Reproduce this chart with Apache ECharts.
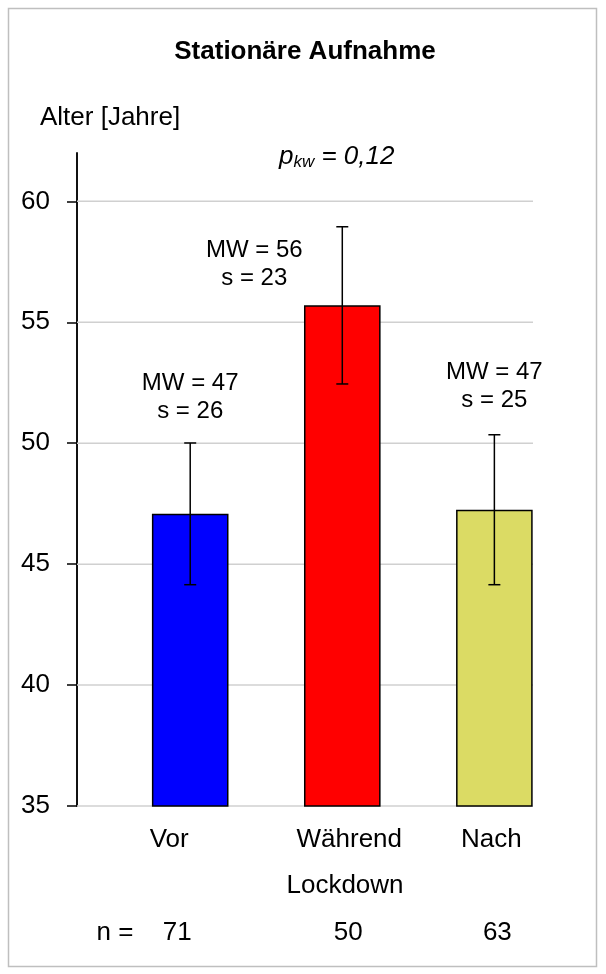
<!DOCTYPE html>
<html>
<head>
<meta charset="utf-8">
<script src="https://cdn.jsdelivr.net/npm/echarts@6/dist/echarts.min.js"></script>
<style>
  html, body { margin: 0; padding: 0; background: #ffffff; }
  #chart { width: 606px; height: 974px; }
</style>
</head>
<body>
<div id="chart"></div>
<script>
// Age at inpatient admission, before / during / after lockdown
const categories = ['Vor', 'Während', 'Nach'];
const positions = [1, 2, 3];
const means = [47.08, 55.7, 47.25];
const errors = [2.93, 3.25, 3.1];
const mwLabels = [47, 56, 47];
const sdLabels = [26, 23, 25];
const sampleSizes = [71, 50, 63];
const yTicks = [35, 40, 45, 50, 55, 60];
const barColors = ['#0000FF', '#FF0000', '#DBDB64'];

// layout nudges (pixels) for the text placed around each bar
const statOffsetX = [0, -88, 0];
const statOffsetY = [-46, 38, -48];
const catNudge = [-21, 7, -3];
const nNudge = [-13, 6, 3];

const FONT = '"Liberation Sans", Arial, Helvetica, sans-serif';
const chart = echarts.init(document.getElementById('chart'), null, { renderer: 'canvas' });

const barData = positions.map((x, i) => ({
  value: [x, means[i]],
  itemStyle: { color: barColors[i], borderColor: '#000', borderWidth: 1.5 }
}));
const errData = positions.map((x, i) => [x, means[i] - errors[i], means[i] + errors[i]]);
const statData = positions.map((x, i) => [x, means[i] + errors[i], i]);
const footData = positions.map((x, i) => [x, yTicks[0], i]);

function textEl(x, y, text, size, extra) {
  return {
    type: 'text', x: x, y: y,
    style: Object.assign({
      text: text, fill: '#000', font: size + 'px ' + FONT,
      textAlign: 'center', align: 'center',
      textVerticalAlign: 'middle', verticalAlign: 'middle'
    }, extra || {})
  };
}

chart.setOption({
  animation: false,
  backgroundColor: '#ffffff',
  grid: { left: 77, top: 153, right: 73, bottom: 168, containLabel: false },
  xAxis: { type: 'value', min: 0.2556, max: 3.254, show: false },
  yAxis: [
    {
      // ticks, labels and grid lines for 35..60
      type: 'value', min: 35, max: 62, interval: 5,
      axisLine: { show: true, lineStyle: { color: '#111', width: 2 } },
      axisTick: { show: true, length: 10, inside: false, customValues: yTicks, lineStyle: { color: '#000', width: 1.5 } },
      axisLabel: { customValues: yTicks, margin: 27, color: '#000', fontSize: 26, fontFamily: FONT },
      splitLine: { show: false }
    }
  ],
  graphic: [
    { type: 'rect', shape: { x: 8.5, y: 8.5, width: 588, height: 958 }, style: { fill: 'none', stroke: '#BFBFBF', lineWidth: 1.5 }, silent: true },
    textEl(305, 52, 'Stationäre Aufnahme', 26, { font: 'bold 26px ' + FONT }),
    textEl(40, 118, 'Alter [Jahre]', 26, { textAlign: 'left', align: 'left' }),
    {
      type: 'text', x: 279, y: 157,
      style: {
        text: '{p|p}{s|kw}{r| = 0,12}',
        textAlign: 'left', align: 'left', textVerticalAlign: 'middle', verticalAlign: 'middle',
        rich: {
          p: { fontSize: 26, fontStyle: 'italic', fontFamily: FONT, fill: '#000', color: '#000' },
          s: { fontSize: 17, fontStyle: 'italic', fontFamily: FONT, fill: '#000', color: '#000', verticalAlign: 'bottom', padding: [10, 0, 0, 0] },
          r: { fontSize: 26, fontStyle: 'italic', fontFamily: FONT, fill: '#000', color: '#000' }
        }
      }
    },
    textEl(345, 886, 'Lockdown', 26),
    textEl(115, 933, 'n =', 26)
  ],
  series: [
    {
      // horizontal grid lines at each labelled tick
      type: 'custom', z: 1, data: yTicks.map(v => [v]),
      renderItem: function (params, api) {
        const a = api.coord([0.2556, api.value(0)]);
        const b = api.coord([3.254, api.value(0)]);
        return { type: 'line', shape: { x1: a[0], y1: a[1], x2: b[0], y2: b[1] }, style: { stroke: '#D0D0D0', lineWidth: 1.5 } };
      },
      encode: { y: 0 }
    },
    {
      type: 'bar', data: barData, barWidth: 76.6, z: 2
    },
    {
      type: 'custom', z: 3, data: errData,
      renderItem: function (params, api) {
        const x = api.value(0);
        const lo = api.coord([x, api.value(1)]);
        const hi = api.coord([x, api.value(2)]);
        const cap = 6;
        const ls = { stroke: '#000', lineWidth: 1.5 };
        return {
          type: 'group', children: [
            { type: 'line', shape: { x1: lo[0], y1: lo[1], x2: hi[0], y2: hi[1] }, style: ls },
            { type: 'line', shape: { x1: hi[0] - cap, y1: hi[1], x2: hi[0] + cap, y2: hi[1] }, style: ls },
            { type: 'line', shape: { x1: lo[0] - cap, y1: lo[1], x2: lo[0] + cap, y2: lo[1] }, style: ls }
          ]
        };
      }
    },
    {
      type: 'custom', z: 4, data: statData,
      renderItem: function (params, api) {
        const i = api.value(2);
        const p = api.coord([api.value(0), api.value(1)]);
        const cx = p[0] + statOffsetX[i];
        const cy = p[1] + statOffsetY[i];
        return {
          type: 'group', children: [
            textEl(cx, cy - 14, 'MW = ' + mwLabels[i], 24),
            textEl(cx, cy + 14, 's = ' + sdLabels[i], 24)
          ]
        };
      }
    },
    {
      type: 'custom', z: 4, data: footData,
      renderItem: function (params, api) {
        const i = api.value(2);
        const p = api.coord([api.value(0), api.value(1)]);
        return {
          type: 'group', children: [
            textEl(p[0] + catNudge[i], p[1] + 34, categories[i], 26),
            textEl(p[0] + nNudge[i], p[1] + 127, String(sampleSizes[i]), 26)
          ]
        };
      }
    }
  ]
});
</script>
</body>
</html>
